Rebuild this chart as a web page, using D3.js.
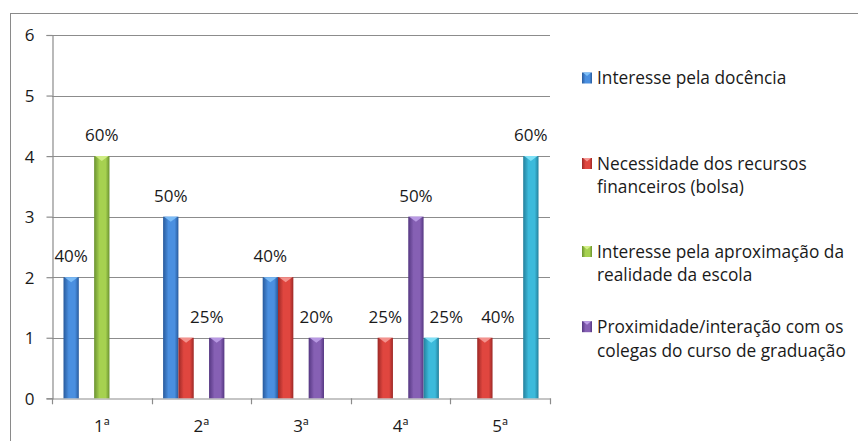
<!DOCTYPE html>
<html><head><meta charset="utf-8">
<script src="https://cdn.jsdelivr.net/npm/d3@7"></script>
<style>
html,body{margin:0;padding:0;background:#fff;}
svg{display:block;font-family:"Open Sans",sans-serif;}
</style></head>
<body>
<svg id="c" width="858" height="441"></svg>
<script>
// ---- data ----
const categories = ["1ª","2ª","3ª","4ª","5ª"];
const seriesNames = [
  "Interesse pela docência",
  "Necessidade dos recursos financeiros (bolsa)",
  "Interesse pela aproximação da realidade da escola",
  "Proximidade/interação com os colegas do curso de graduação",
  ""
];
const docencia    = [2,3,2,0,0];
const bolsa       = [0,1,2,1,1];
const realidade   = [4,0,0,0,0];
const colegas     = [0,1,1,3,0];
const serie5      = [0,0,0,1,4];
const labelsDocencia  = ["40%","50%","40%","",""];
const labelsBolsa     = ["","","","25%","40%"];
const labelsRealidade = ["60%","","","",""];
const labelsColegas   = ["","25%","20%","50%",""];
const labelsSerie5    = ["","","","25%","60%"];
const yTicks = [0,1,2,3,4,5,6];

// ---- styles / layout ----
const values = [docencia,bolsa,realidade,colegas,serie5];
const labels = [labelsDocencia,labelsBolsa,labelsRealidade,labelsColegas,labelsSerie5];
const colors = [
  {dark:"#285a9c", light:"#4a8fe0", top:"#7fc0f8"},
  {dark:"#9c2826", light:"#e0463f", top:"#f59a96"},
  {dark:"#6a9230", light:"#a6d150", top:"#d4f08a"},
  {dark:"#553782", light:"#8660b4", top:"#bea0e8"},
  {dark:"#24809c", light:"#3cbadb", top:"#86e6fa"}
];
// label nudges (series index, category index) -> dx px
const nudge = {"3-1":-10, "4-3":15, "1-4":13};

const svg = d3.select("#c");
const defs = svg.append("defs");
colors.forEach((c,i)=>{
  const g = defs.append("linearGradient").attr("id","g"+i)
    .attr("x1","0").attr("x2","1").attr("y1","0").attr("y2","0");
  g.append("stop").attr("offset","0%").attr("stop-color",c.dark);
  g.append("stop").attr("offset","35%").attr("stop-color",c.light);
  g.append("stop").attr("offset","75%").attr("stop-color",c.light);
  g.append("stop").attr("offset","100%").attr("stop-color",c.dark);
});

// outer frame (only left and top visible)
svg.append("rect").attr("x",10.5).attr("y",13.5).attr("width",1000).attr("height",600)
  .attr("fill","none").attr("stroke","#8a8a8a").attr("stroke-width",1);

const L=52, R=550, T=35, B=398.3;
const x = d3.scaleBand().domain(categories).range([L,R]).paddingInner(0).paddingOuter(0);
const y = d3.scaleLinear().domain([0,6]).range([B,T]);
const bw = x.bandwidth()/6.5;
const xs = d3.scaleBand().domain(d3.range(5)).range([0.75*bw, 0.75*bw+5*bw]).padding(0);

// gridlines
svg.append("g").selectAll("line").data(yTicks.filter(d=>d>0)).join("line")
  .attr("x1",L).attr("x2",R).attr("y1",d=>Math.round(y(d))+0.5).attr("y2",d=>Math.round(y(d))+0.5)
  .attr("stroke","#8c8c8c").attr("stroke-width",1.2);

// y axis
const ya = svg.append("g").attr("transform",`translate(${L+0.5},0)`)
  .call(d3.axisLeft(y).tickValues(yTicks).tickSize(6).tickPadding(12).tickFormat(d3.format("d")));
ya.select(".domain").attr("stroke","#8c8c8c").attr("stroke-width",1.2);
ya.selectAll(".tick line").attr("stroke","#8c8c8c").attr("stroke-width",1.2);
ya.selectAll(".tick text").attr("font-size",17).attr("fill","#1a1a1a")
  .attr("font-family","'Open Sans',sans-serif").attr("dy","0.35em");

// x axis
const xa = svg.append("g").attr("transform",`translate(0,${Math.round(B)+0.5})`)
  .call(d3.axisBottom(x).tickSize(0).tickPadding(22));
xa.select(".domain").attr("stroke","#8c8c8c").attr("stroke-width",1.2);
xa.selectAll(".tick text").attr("font-size",17).attr("fill","#1a1a1a")
  .attr("font-family","'Open Sans',sans-serif").attr("dy","0");
xa.selectAll(".tick text").attr("y",33);
// boundary ticks
svg.append("g").selectAll("line").data(categories.map(c=>x(c)).concat([R])).join("line")
  .attr("x1",d=>Math.round(d)+0.5).attr("x2",d=>Math.round(d)+0.5)
  .attr("y1",B).attr("y2",B+6).attr("stroke","#8c8c8c").attr("stroke-width",1.2);

// bars
const barG = svg.append("g");
values.forEach((vals,si)=>{
  vals.forEach((v,ci)=>{
    if(!v) return;
    const x0 = x(categories[ci]) + xs(si);
    const y0 = y(v);
    barG.append("rect").attr("x",x0).attr("y",y0).attr("width",bw).attr("height",y(0)-y0)
      .attr("fill",`url(#g${si})`);
    barG.append("path")
      .attr("d",`M${x0+1},${y0} L${x0+bw-1},${y0} L${x0+bw/2},${y0+5} Z`)
      .attr("fill",colors[si].top).attr("opacity",0.9);
  });
});

// data labels
const lab = svg.append("g");
labels.forEach((ls,si)=>{
  ls.forEach((t,ci)=>{
    if(!t) return;
    const cx = x(categories[ci]) + xs(si) + bw/2 + (nudge[si+"-"+ci]||0);
    lab.append("text").attr("x",cx).attr("y",y(values[si][ci])-15)
      .attr("text-anchor","middle").attr("font-size",17).attr("fill","#1a1a1a").text(t);
  });
});

// legend (first four series)
const legendLines = [
  ["Interesse pela docência"],
  ["Necessidade dos recursos","financeiros (bolsa)"],
  ["Interesse pela aproximação da","realidade da escola"],
  ["Proximidade/interação com os","colegas do curso de graduação"]
];
const legendBase = [84,169.5,257.5,332.7];
const lg = svg.append("g");
legendLines.forEach((lines,i)=>{
  const b = legendBase[i];
  lg.append("rect").attr("x",582).attr("y",b-11.5).attr("width",10).attr("height",11)
    .attr("fill",`url(#g${i})`);
  lg.append("path").attr("d",`M583,${b-11.5} L591,${b-11.5} L587,${b-8} Z`).attr("fill",colors[i].top);
  lines.forEach((t,j)=>{
    lg.append("text").attr("x",597).attr("y",b+j*23.8).attr("font-size",17.3)
      .attr("fill","#1a1a1a").text(t);
  });
});
</script>
</body></html>
